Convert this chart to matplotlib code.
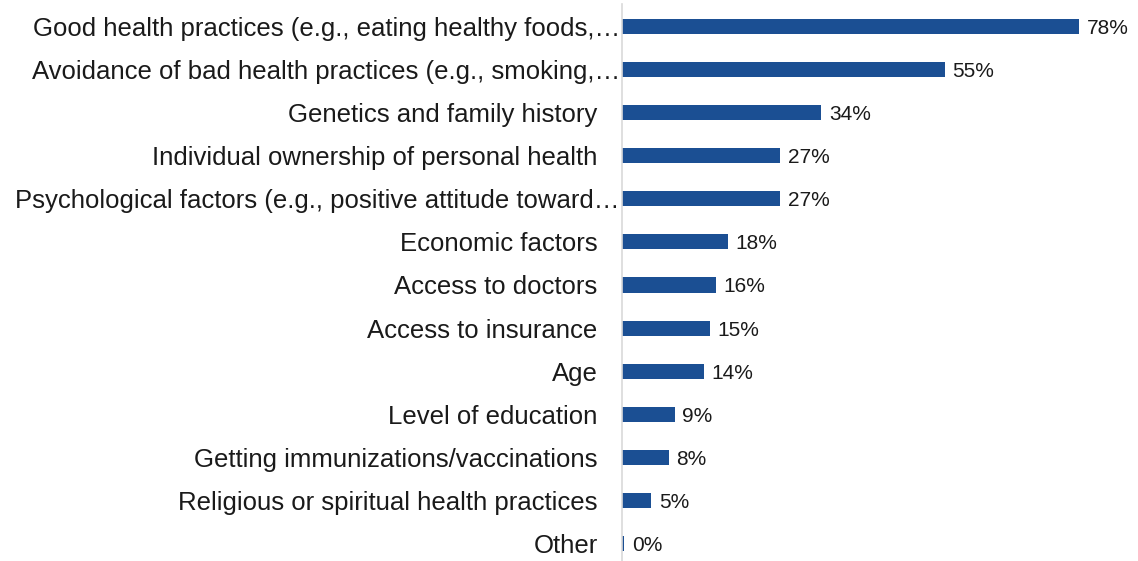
import matplotlib
matplotlib.use('Agg')
import matplotlib.pyplot as plt
import matplotlib.transforms as mtransforms

plt.rcParams['font.family'] = ['Liberation Sans', 'DejaVu Sans']

categories = [
    'Good health practices (e.g., eating healthy foods,\u2026',
    'Avoidance of bad health practices (e.g., smoking,\u2026',
    'Genetics and family history',
    'Individual ownership of personal health',
    'Psychological factors (e.g., positive attitude toward\u2026',
    'Economic factors',
    'Access to doctors',
    'Access to insurance',
    'Age',
    'Level of education',
    'Getting immunizations/vaccinations',
    'Religious or spiritual health practices',
    'Other',
]
values = [78, 55, 34, 27, 27, 18, 16, 15, 14, 9, 8, 5, 0.4]

bar_color = '#1B4F93'

fig = plt.figure(figsize=(11.38, 5.61), dpi=100)
ax = fig.add_axes([0.5466, -0.008, 0.4534, 1.0])

y = list(range(len(categories)))
ax.barh(y, values, height=0.35, color=bar_color)
for yi, v in zip(y, values):
    ax.text(v + 1.3, yi, f'{round(v):.0f}%', va='center_baseline', ha='left',
            fontsize=15, color='#1a1a1a')

# category labels: truncated ones run right up to the axis line
trans = mtransforms.blended_transform_factory(ax.transAxes, ax.transData)
for yi, lab in zip(y, categories):
    off = -1.5 if lab.endswith('\u2026') else -17.5
    t = mtransforms.offset_copy(trans, fig=fig, x=off, y=0, units='points')
    ax.text(0, yi, lab, transform=t, ha='right', va='center_baseline',
            fontsize=18.5, color='#1a1a1a')

ax.set_yticks([])
ax.set_xticks([])
ax.set_xlim(0, 88)
ax.set_ylim(len(categories) - 0.5, -0.5)

for s in ['top', 'right', 'bottom']:
    ax.spines[s].set_visible(False)
ax.spines['left'].set_color('#D9D9D9')
ax.spines['left'].set_linewidth(1.2)

fig.savefig('out.png', dpi=100)
